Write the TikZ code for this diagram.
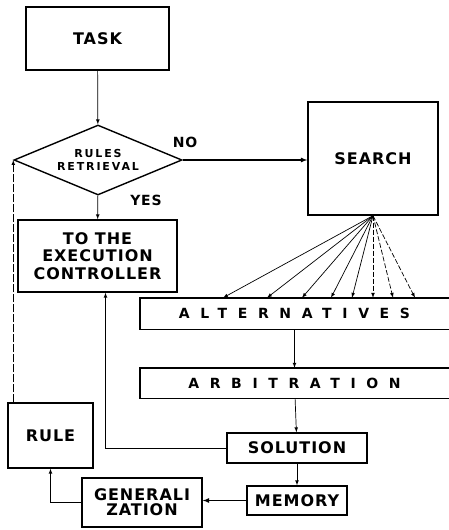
\documentclass[tikz,border=0pt]{standalone}
\usepackage{fontspec}
\usetikzlibrary{shapes.geometric}
\newfontfamily\boxfont[LetterSpace=6]{DejaVu Sans}
\newfontfamily\spacedfont[LetterSpace=76]{DejaVu Sans}
\newfontfamily\smallfont[LetterSpace=17]{DejaVu Sans}

\begin{document}
\begin{tikzpicture}[x=1pt,y=-1pt,>=latex,
	box/.style={draw,line width=1.4pt,inner sep=0pt,align=center,font=\boxfont\bfseries\fontsize{16}{17.5}\selectfont},
	wide/.style={inner sep=0pt,minimum width=309pt,font=\spacedfont\bfseries\fontsize{14}{16}\selectfont},
	frame/.style={line width=1.4pt},
	link/.style={->,line width=0.7pt},
	heavy/.style={->,line width=1.2pt},
	answer/.style={font=\boxfont\bfseries\fontsize{14}{16}\selectfont}]
		\useasboundingbox[fill=white] (0,0) rectangle (449,530);
		
		\node[box,minimum width=143pt,minimum height=63pt] (task) at (97.5,38.5) {TASK};
		\node[box,diamond,aspect=2.4,minimum width=168pt,minimum height=70pt,font=\smallfont\bfseries\fontsize{11}{13.5}\selectfont] (rules) at (98,160) {RULES\\RETRIEVAL};
		\node[box,minimum width=130pt,minimum height=113pt] (search) at (373,158.5) {SEARCH};
		\node[box,minimum width=159pt,minimum height=72pt] (exec) at (97.5,256) {TO THE\\EXECUTION\\CONTROLLER};
		
		\node[answer] (no) at (185,142) {NO};
		\node[answer] (yes) at (146,200) {YES};
		
		% open boxes, cut at the right margin
		\node[wide,minimum height=31pt] (alt) at (294.5,313.5) {ALTERNATIVES};
		\node[wide,minimum height=30pt] (arb) at (294.5,383) {ARBITRATION};
		\draw[frame] (alt.north east) -- (alt.north west) -- (alt.south west) -- (alt.south east);
		\draw[frame] (arb.north east) -- (arb.north west) -- (arb.south west) -- (arb.south east);
		
		\node[box,minimum width=140pt,minimum height=30pt] (solution) at (297,448) {SOLUTION};
		\node[box,minimum width=100pt,minimum height=29pt] (memory) at (297,500.5) {MEMORY};
		\node[box,minimum width=120pt,minimum height=49pt,font=\boxfont\bfseries\fontsize{16}{15}\selectfont] (gen) at (142,502.5) {GENERALI\\ZATION};
		\node[box,minimum width=85pt,minimum height=65pt] (rule) at (50.5,435.5) {RULE};
		
		\draw[link] (task) -- (rules);
		\draw[heavy] (rules.east) -- (rules.east -| search.west);
		\draw[link] (rules) -- (exec);
		
		\foreach \x in {223,267,302,331,352} \draw[link] (search.south) -- (\x,0 |- alt.north);
		\foreach \x in {373,393,415} \draw[link,dash pattern=on 5pt off 2pt] (search.south) -- (\x,0 |- alt.north);
		
		\draw[link] (alt) -- (arb);
		\draw[link] (arb) -- (solution);
		\draw[link] (solution) -- (memory);
		\draw[heavy] (memory.west) -- (memory.west -| gen.east);
		\draw[link] (gen.west) -| (rule.south);
		\draw[link,dash pattern=on 8pt off 2pt] (rules.west |- rule.north) -- (rules.west);
		\draw[link] (solution.west) -| ([xshift=8pt]exec.south);
		\end{tikzpicture}
\end{document}
